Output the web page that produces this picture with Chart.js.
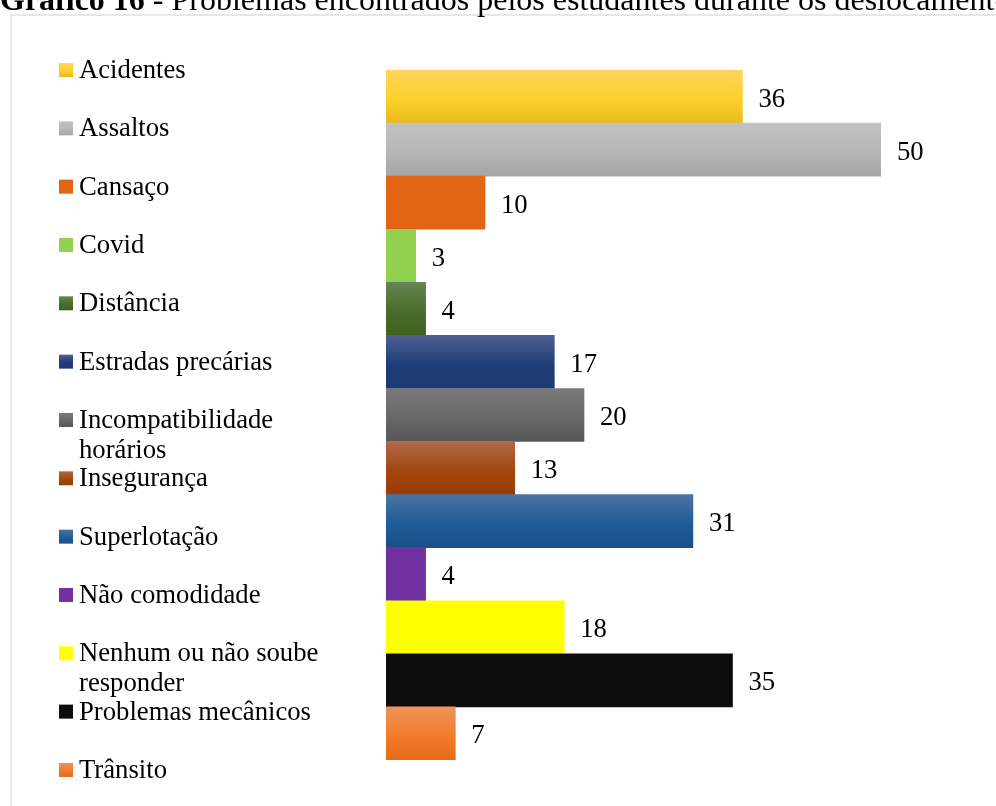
<!DOCTYPE html>
<html lang="pt-BR">
<head>
<meta charset="utf-8">
<title>Gráfico 16</title>
<script src="https://cdn.jsdelivr.net/npm/chart.js@4"></script>
<style>
  html, body { margin: 0; padding: 0; background: #fff; overflow: hidden; }
  canvas { display: block; }
</style>
</head>
<body>
<canvas id="problemasChart" width="996" height="806"></canvas>
<script>
// Problemas citados pelos estudantes (número de respostas)
const categorias = [
    'Acidentes', 'Assaltos', 'Cansaço', 'Covid', 'Distância',
    'Estradas precárias', 'Incompatibilidade horários', 'Insegurança',
    'Superlotação', 'Não comodidade', 'Nenhum ou não soube responder',
    'Problemas mecânicos', 'Trânsito'
];
const respostas = [36, 50, 10, 3, 4, 17, 20, 13, 31, 4, 18, 35, 7];

// cor de cada barra: [topo, meio, base]
const cores = [
    ['#ffd45c', '#fdd12b', '#e6ba1a'],
    ['#c2c2c2', '#b6b6b6', '#a5a5a5'],
    ['#e36615', '#e36615', '#e06414'],
    ['#92d050', '#92d050', '#92d050'],
    ['#668453', '#476d2c', '#3d621f'],
    ['#4c5f8f', '#213d77', '#1b3a72'],
    ['#7b7b7b', '#686868', '#575757'],
    ['#b06a48', '#a2460f', '#983c00'],
    ['#4b72a3', '#1f5c97', '#1a5087'],
    ['#7030a0', '#7030a0', '#7030a0'],
    ['#ffff00', '#ffff00', '#ffff00'],
    ['#0d0d0d', '#0d0d0d', '#0d0d0d'],
    ['#f19259', '#f07b2b', '#e86a18']
];

const FONTE = '"Liberation Serif", "Times New Roman", serif';

function pintaGradiente(ctx, stops, y0, y1) {
    const g = ctx.createLinearGradient(0, y0, 0, y1);
    g.addColorStop(0, stops[0]);
    g.addColorStop(0.55, stops[1]);
    g.addColorStop(1, stops[2]);
    return g;
}

function corDaBarra(context) {
    const chart = context.chart;
    const area = chart.chartArea;
    if (!area || context.dataIndex === undefined) return cores[0][1];
    const i = context.dataIndex;
    const centro = chart.scales.y.getPixelForValue(i);
    const meia = (area.bottom - area.top) / categorias.length / 2;
    return pintaGradiente(chart.ctx, cores[i], centro - meia, centro + meia);
}

// quebra o texto da legenda em linhas de largura máxima
function quebraLinhas(ctx, texto, largura) {
    const palavras = texto.split(' ');
    const linhas = [];
    let atual = '';
    palavras.forEach(p => {
        const teste = atual ? atual + ' ' + p : p;
        if (atual && ctx.measureText(teste).width > largura) {
            linhas.push(atual);
            atual = p;
        } else {
            atual = teste;
        }
    });
    if (atual) linhas.push(atual);
    return linhas;
}

// fundo, moldura e título
const moldura = {
    id: 'moldura',
    beforeDraw(chart) {
        const ctx = chart.ctx;
        ctx.save();
        ctx.fillStyle = '#ffffff';
        ctx.fillRect(0, 0, chart.width, chart.height);
        ctx.strokeStyle = '#e4e8ee';
        ctx.lineWidth = 2;
        ctx.strokeRect(11, 15, chart.width + 20, chart.height + 20);

        ctx.fillStyle = '#000000';
        ctx.textBaseline = 'alphabetic';
        ctx.font = 'bold 32px ' + FONTE;
        const negrito = 'Gráfico 16';
        ctx.fillText(negrito, 0, 10);
        const w = ctx.measureText(negrito).width;
        ctx.font = '32px ' + FONTE;
        ctx.fillText(' - Problemas encontrados pelos estudantes durante os deslocamentos', w, 10);
        ctx.restore();
    }
};

// legenda à esquerda e rótulos de valor
const rotulos = {
    id: 'rotulos',
    afterDatasetsDraw(chart) {
        const ctx = chart.ctx;
        ctx.save();
        ctx.fillStyle = '#000000';
        ctx.font = '26.7px ' + FONTE;
        ctx.textAlign = 'left';
        ctx.textBaseline = 'alphabetic';
        chart.getDatasetMeta(0).data.forEach((barra, i) => {
            ctx.fillText(String(respostas[i]), barra.x + 16, barra.y + 10);
        });

        const passo = 58.33;
        categorias.forEach((nome, i) => {
            const base = 78 + i * passo;
            ctx.fillStyle = pintaGradiente(ctx, cores[i], base - 15, base - 1);
            ctx.fillRect(59, base - 15, 14, 14);
            ctx.fillStyle = '#000000';
            quebraLinhas(ctx, nome, 255).forEach((linha, k) => {
                ctx.fillText(linha, 79, base + k * 30);
            });
        });
        ctx.restore();
    }
};

new Chart(document.getElementById('problemasChart'), {
    type: 'bar',
    data: {
        labels: categorias,
        datasets: [{
            data: respostas,
            backgroundColor: corDaBarra,
            borderWidth: 0,
            categoryPercentage: 1,
            barPercentage: 1
        }]
    },
    options: {
        indexAxis: 'y',
        responsive: false,
        devicePixelRatio: 1,
        animation: false,
        layout: { padding: { left: 386, right: 115, top: 70, bottom: 46 } },
        scales: {
            x: { display: false, min: 0, max: 50 },
            y: { display: false }
        },
        plugins: {
            legend: { display: false },
            tooltip: { enabled: false }
        }
    },
    plugins: [moldura, rotulos]
});
</script>
</body>
</html>
